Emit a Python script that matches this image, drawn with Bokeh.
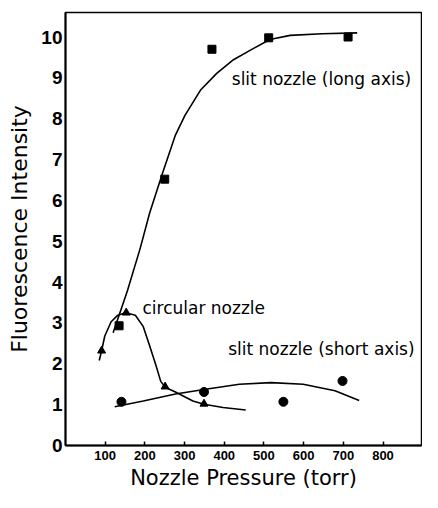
from bokeh.plotting import figure
from bokeh.models import FixedTicker, Range1d
from bokeh.core.properties import value
from bokeh.embed import file_html
from bokeh.resources import INLINE

# ---- data ----
long_x = [135, 250, 369, 512, 712]
long_y = [2.93, 6.52, 9.70, 9.98, 10.0]
long_fit_x = [120, 156, 188, 212, 244, 277, 301, 341, 381, 421, 466, 515, 566, 647, 735]
long_fit_y = [2.76, 3.79, 4.82, 5.69, 6.65, 7.60, 8.08, 8.71, 9.11, 9.43, 9.68, 9.94, 10.04, 10.08, 10.1]

circ_x = [91, 153, 251, 349]
circ_y = [2.32, 3.25, 1.44, 1.02]
circ_fit_x = [85, 91, 99, 115, 132, 152, 176, 196, 212, 228, 240, 252, 277, 321, 349, 397, 454]
circ_fit_y = [2.08, 2.32, 2.68, 3.03, 3.19, 3.25, 3.19, 2.91, 2.44, 1.96, 1.57, 1.42, 1.31, 1.09, 1.01, 0.93, 0.87]

short_x = [141, 349, 549, 698]
short_y = [1.07, 1.31, 1.07, 1.58]
short_fit_x = [124, 196, 277, 349, 438, 518, 599, 679, 740]
short_fit_y = [0.95, 1.09, 1.26, 1.37, 1.50, 1.54, 1.50, 1.34, 1.10]

x_ticks = [100, 200, 300, 400, 500, 600, 700, 800]
y_ticks = [0, 1, 2, 3, 4, 5, 6, 7, 8, 9, 10]

label_texts = ["slit nozzle (long axis)", "circular nozzle", "slit nozzle (short axis)"]
label_x = [419, 194, 410]
label_y = [8.98, 3.36, 2.36]

FONT = "Liberation Sans"
TFONT = "DejaVu Sans"

p = figure(width=422, height=492, x_range=Range1d(0, 897), y_range=Range1d(0, 10.6),
           output_backend="svg", toolbar_location=None,
           min_border_left=65, min_border_right=1, min_border_top=12, min_border_bottom=0)
p.background_fill_color = "white"
p.border_fill_color = "white"
p.grid.visible = False
p.outline_line_color = "black"
p.outline_line_width = 1.5

# axes
p.xaxis.ticker = FixedTicker(ticks=x_ticks)
p.yaxis.ticker = FixedTicker(ticks=y_ticks)
for ax in (p.xaxis[0], p.yaxis[0]):
    ax.axis_line_color = "black"
    ax.axis_line_width = 2
    ax.minor_tick_line_color = None
    ax.major_tick_out = 0
    ax.major_label_text_font = FONT
    ax.major_label_text_font_style = "bold"
    ax.major_label_text_color = "black"
    ax.axis_label_text_font = TFONT
    ax.axis_label_text_font_style = "normal"
    ax.axis_label_text_color = "black"

p.xaxis.major_tick_in = 4
p.xaxis.major_tick_line_color = "black"
p.xaxis.major_tick_line_width = 1.5
p.xaxis.major_label_text_font_size = "13px"
p.xaxis.major_label_standoff = 5
p.xaxis.axis_label = "Nozzle Pressure (torr)"
p.xaxis.axis_label_standoff = 3
p.xaxis.axis_label_text_font_size = "21px"

p.yaxis.major_tick_in = 0
p.yaxis.major_tick_line_color = None
p.yaxis.major_label_text_font_size = "19px"
p.yaxis.major_label_standoff = 3
p.yaxis.axis_label = "Fluorescence Intensity"
p.yaxis.axis_label_standoff = 6
p.yaxis.axis_label_text_font_size = "22px"

# fitted curves
p.line(long_fit_x, long_fit_y, line_color="black", line_width=1.6)
p.line(circ_fit_x, circ_fit_y, line_color="black", line_width=1.6)
p.line(short_fit_x, short_fit_y, line_color="black", line_width=1.6)

# data points
p.scatter(long_x, long_y, marker="square", size=8, fill_color="black", line_color="black")
p.scatter(circ_x, circ_y, marker="triangle", size=8, fill_color="black", line_color="black")
p.scatter(short_x, short_y, marker="circle", size=9, fill_color="black", line_color="black")

# labels
p.text(x=label_x, y=label_y, text=label_texts, text_font=value(TFONT), text_font_size="17px",
       text_baseline="middle", text_align="left", text_color="black")

open("out.html", "w").write(file_html(p, INLINE))
